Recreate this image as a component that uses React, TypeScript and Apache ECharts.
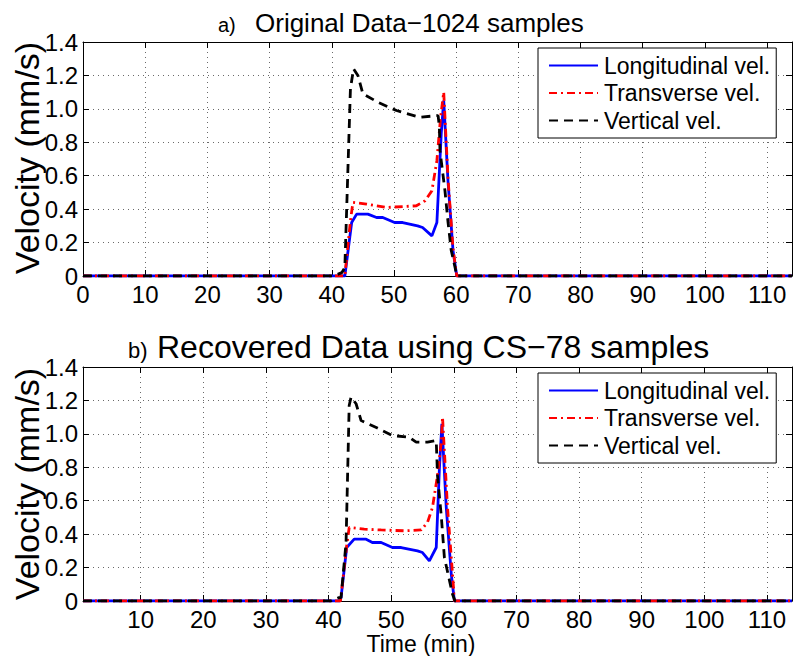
import React, { useEffect, useRef } from "react";
import * as echarts from "echarts";

// ---- data ----
const seriesNames = ["Longitudinal vel.", "Transverse vel.", "Vertical vel."];

// (a) Original data
const aLongT = [0, 42.1, 43.2, 44.0, 45.8, 47.2, 48.2, 50.1, 51.4, 53.8, 54.6, 56.1, 56.9, 57.6, 58.0, 58.7, 59.5, 60.1, 114];
const aLongV = [0, 0, 0.32, 0.37, 0.37, 0.35, 0.35, 0.32, 0.32, 0.30, 0.29, 0.24, 0.32, 0.85, 1.05, 0.56, 0.15, 0, 0];
const aTransT = [0, 42.1, 43.0, 43.4, 45.6, 48.8, 53.6, 55.0, 56.1, 56.9, 57.5, 58.0, 58.7, 59.5, 60.1, 114];
const aTransV = [0, 0, 0.33, 0.44, 0.43, 0.41, 0.42, 0.45, 0.51, 0.69, 0.95, 1.10, 0.58, 0.16, 0, 0];
const aVertT = [0, 40.3, 41.6, 42.1, 43.0, 43.5, 44.2, 45.0, 47.4, 50.4, 54.1, 57.1, 57.3, 57.4, 58.2, 58.7, 59.2, 59.8, 60.1, 114];
const aVertV = [0, 0, 0.02, 0.05, 1.12, 1.24, 1.20, 1.09, 1.04, 0.99, 0.95, 0.96, 0.89, 0.75, 0.51, 0.32, 0.155, 0.055, 0, 0];

// (b) Recovered data
const bLongT = [0.8, 41.8, 42.0, 42.9, 44.1, 46.0, 47.0, 48.4, 50.2, 51.6, 54.2, 55.0, 56.1, 57.2, 57.7, 58.1, 58.8, 59.6, 60.1, 114];
const bLongV = [0, 0, 0.02, 0.32, 0.37, 0.37, 0.35, 0.35, 0.32, 0.32, 0.30, 0.29, 0.24, 0.32, 0.79, 1.06, 0.56, 0.16, 0, 0];
const bTransT = [0.8, 41.9, 42.9, 43.3, 45.7, 48.4, 52.1, 54.8, 55.8, 56.6, 57.4, 58.0, 58.2, 59.0, 59.8, 60.1, 114];
const bTransV = [0, 0, 0.33, 0.44, 0.43, 0.425, 0.42, 0.425, 0.47, 0.56, 0.75, 0.95, 1.10, 0.56, 0.16, 0, 0];
const bVertT = [0.8, 40.4, 41.6, 42.0, 42.8, 43.3, 43.6, 44.4, 45.2, 47.8, 50.2, 52.9, 54.0, 55.8, 57.2, 57.4, 58.0, 58.5, 59.8, 60.2, 114];
const bVertV = [0, 0, 0.02, 0.02, 0.35, 1.17, 1.22, 1.18, 1.08, 1.035, 0.99, 0.98, 0.95, 0.95, 0.96, 0.75, 0.51, 0.26, 0.04, 0, 0];

const topXTicks = [0, 10, 20, 30, 40, 50, 60, 70, 80, 90, 100, 110];
const botXTicks = [10, 20, 30, 40, 50, 60, 70, 80, 90, 100, 110];

const titleA = ["a)", "Original Data\u22121024 samples"];
const titleB = ["b)", "Recovered Data using CS\u221278 samples"];
const yName = "Velocity (mm/s)";
const xName = "Time (min)";

const zip = (t: number[], v: number[]) => t.map((x, i) => [x, v[i]]);

const FONT = "Liberation Sans, Arial, Helvetica, sans-serif";

export default function App() {
  const ref = useRef<HTMLDivElement>(null);
  useEffect(() => {
    document.body.style.margin = "0";
    const chart = echarts.init(ref.current!, null, { renderer: "svg" });
    const gridTop = [42, 367];
    const grids = gridTop.map((t) => ({ left: 83, top: t, width: 709, height: 234 }));
    const gridLine = { show: true, lineStyle: { color: "#6a6a6a", type: [1, 4], width: 1 } };
    const tickStyle = { inside: true, length: 6, lineStyle: { color: "#000", width: 1 } };
    const lineAx = { show: true, onZero: false, lineStyle: { color: "#000", width: 1 } };
    const xAxes: any[] = [];
    const yAxes: any[] = [];
    [0, 1].forEach((g) => {
      const min = g === 0 ? 0 : 0.8;
      const ticks = g === 0 ? topXTicks : botXTicks;
      xAxes.push({
        type: "value", gridIndex: g, min, max: 114, position: "bottom",
        axisLine: lineAx,
        axisTick: { ...tickStyle, customValues: ticks },
        axisLabel: { customValues: ticks, fontFamily: FONT, fontSize: 24, color: "#000", margin: 6 },
        splitLine: gridLine,
      });
      xAxes.push({
        type: "value", gridIndex: g, min, max: 114, position: "top",
        axisLine: lineAx,
        axisTick: { ...tickStyle, customValues: ticks },
        axisLabel: { show: false },
        splitLine: { show: false },
      });
      yAxes.push({
        type: "value", gridIndex: g, min: 0, max: 1.4, interval: 0.2, position: "left",
        axisLine: lineAx, axisTick: tickStyle,
        axisLabel: {
          fontFamily: FONT, fontSize: 24, color: "#000", margin: 5,
          formatter: (v: number) => (Math.abs(v) < 1e-9 ? "0" : v.toFixed(1)),
        },
        splitLine: gridLine,
      });
      yAxes.push({
        type: "value", gridIndex: g, min: 0, max: 1.4, interval: 0.2, position: "right",
        axisLine: lineAx, axisTick: tickStyle, axisLabel: { show: false }, splitLine: { show: false },
      });
    });

    const styles = [
      { color: "#0000ff", type: "solid" as any, width: 2.8 },
      { color: "#ff0000", type: [8, 4, 2, 4], width: 2.8 },
      { color: "#000000", type: [9, 6], width: 2.8 },
    ];
    const dataSets = [
      [zip(aLongT, aLongV), zip(aTransT, aTransV), zip(aVertT, aVertV)],
      [zip(bLongT, bLongV), zip(bTransT, bTransV), zip(bVertT, bVertV)],
    ];
    const series: any[] = [];
    dataSets.forEach((sets, g) => {
      sets.forEach((d, i) => {
        series.push({
          type: "line", name: seriesNames[i], data: d,
          xAxisIndex: g * 2, yAxisIndex: g * 2,
          symbol: "none", showSymbol: false,
          lineStyle: styles[i], itemStyle: { color: styles[i].color },
          z: 2 + i,
        });
      });
    });

    const legendTops = [48, 373];
    const legend = legendTops.map((t) => ({
      data: seriesNames, orient: "vertical", left: 538, top: t,
      itemWidth: 49, itemHeight: 14, itemGap: 4.5,
      padding: [6, 6, 6, 10],
      backgroundColor: "#fff", borderColor: "#000", borderWidth: 1, borderRadius: 0,
      selectedMode: false,
      itemStyle: { opacity: 0 },
      textStyle: { fontFamily: FONT, fontSize: 23, color: "#000", padding: [0, 0, 0, 1] },
    }));

    const graphic: any[] = [
      { type: "text", x: 218, y: 25, style: { text: titleA[0], font: `20px ${FONT}`, fill: "#000", verticalAlign: "middle" } },
      { type: "text", x: 255, y: 23, style: { text: titleA[1], font: `26px ${FONT}`, fill: "#000", verticalAlign: "middle" } },
      { type: "text", x: 128, y: 350, style: { text: titleB[0], font: `22px ${FONT}`, fill: "#000", verticalAlign: "middle" } },
      { type: "text", x: 157, y: 347, style: { text: titleB[1], font: `32px ${FONT}`, fill: "#000", verticalAlign: "middle" } },
      { type: "text", x: 27, y: 158, rotation: Math.PI / 2, style: { text: yName, font: `34px ${FONT}`, fill: "#000", align: "center", verticalAlign: "middle" } },
      { type: "text", x: 27, y: 484, rotation: Math.PI / 2, style: { text: yName, font: `34px ${FONT}`, fill: "#000", align: "center", verticalAlign: "middle" } },
      { type: "text", x: 421, y: 644, style: { text: xName, font: `23px ${FONT}`, fill: "#000", align: "center", verticalAlign: "middle" } },
    ];

    chart.setOption({
      animation: false,
      backgroundColor: "#fff",
      grid: grids,
      xAxis: xAxes,
      yAxis: yAxes,
      series,
      legend,
      graphic,
    });
    return () => chart.dispose();
  }, []);
  return <div ref={ref} style={{ width: 795, height: 656 }} />;
}
